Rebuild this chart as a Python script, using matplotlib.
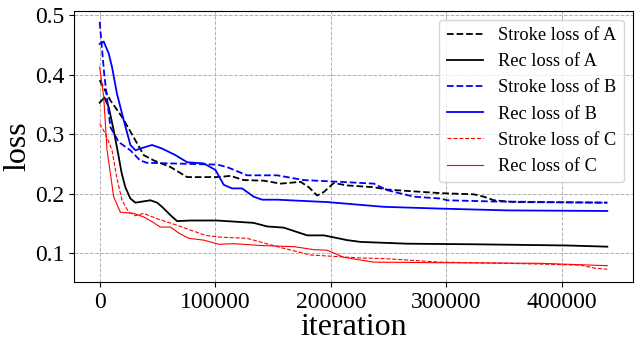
import numpy as np
import matplotlib
matplotlib.use("Agg")
import matplotlib.pyplot as plt

plt.rcParams['font.family'] = ['Liberation Serif', 'DejaVu Serif']

# Stroke loss of A (black dashed)
iter_sa = [0, 9300, 19400, 29400, 38100, 46800, 61200, 75700, 101700, 113200, 124700,
           142000, 156500, 173800, 181000, 188200, 194000, 202600, 214200, 237200,
           248800, 295000, 323800, 332500, 341200, 358500, 439300]
loss_sa = [0.391, 0.357, 0.329, 0.295, 0.265, 0.256, 0.245, 0.228, 0.228, 0.230, 0.223,
           0.222, 0.217, 0.220, 0.211, 0.197, 0.203, 0.218, 0.214, 0.211,
           0.207, 0.201, 0.199, 0.195, 0.189, 0.186, 0.185]

# Rec loss of A (black solid)
iter_ra = [0, 4100, 7800, 12100, 16500, 19000, 22200, 26600, 30900, 43900, 49700, 54000,
           61200, 67000, 78500, 101700, 133300, 144900, 159300, 179600, 194000, 214200,
           225700, 266000, 323800, 404600, 439300]
loss_ra = [0.353, 0.362, 0.346, 0.307, 0.262, 0.235, 0.211, 0.192, 0.185, 0.189, 0.185, 0.178,
           0.164, 0.154, 0.155, 0.155, 0.151, 0.145, 0.143, 0.130, 0.130, 0.122,
           0.119, 0.116, 0.115, 0.113, 0.111]

# Stroke loss of B (blue dashed)
iter_sb = [0, 4000, 9300, 16500, 26600, 35000, 41000, 101700, 110000, 127600, 153600,
           176500, 208400, 237300, 248800, 272000, 295000, 300800, 340900, 439300]
loss_sb = [0.489, 0.400, 0.312, 0.287, 0.273, 0.256, 0.252, 0.249, 0.245, 0.231, 0.231,
           0.223, 0.220, 0.217, 0.206, 0.195, 0.192, 0.189, 0.187, 0.185]

# Rec loss of B (blue solid)
iter_rb = [0, 3500, 7800, 10700, 15000, 20800, 26600, 30900, 35200, 45300, 54000, 65500,
           75700, 90100, 100200, 107400, 114600, 123300, 133300, 140600, 153600, 196900,
           246000, 295000, 352700, 439300]
loss_rb = [0.452, 0.456, 0.436, 0.413, 0.368, 0.324, 0.282, 0.273, 0.276, 0.282, 0.276, 0.265,
           0.253, 0.251, 0.240, 0.215, 0.209, 0.209, 0.195, 0.190, 0.190, 0.186,
           0.178, 0.175, 0.172, 0.171]

# Stroke loss of C (red dashed, thin)
iter_sc = [0, 4900, 10700, 15000, 19400, 25100, 30900, 38100, 49700, 67000, 78500, 91500,
           104500, 127600, 153600, 182400, 225700, 246000, 295000, 352700, 416200,
           427800, 439300]
loss_sc = [0.318, 0.301, 0.273, 0.225, 0.189, 0.169, 0.163, 0.167, 0.158, 0.147, 0.139, 0.130,
           0.127, 0.125, 0.111, 0.097, 0.092, 0.091, 0.085, 0.083, 0.080,
           0.075, 0.073]

# Rec loss of C (red solid, thin)
iter_rc = [0, 3500, 6400, 9300, 12100, 17900, 29400, 38100, 45300, 52500, 61200, 68400,
           77100, 90100, 103100, 116000, 139100, 168000, 185300, 196900, 211300, 237200,
           295000, 381600, 439300]
loss_rc = [0.413, 0.363, 0.273, 0.234, 0.195, 0.169, 0.167, 0.161, 0.153, 0.144, 0.144, 0.134,
           0.125, 0.122, 0.115, 0.116, 0.113, 0.111, 0.106, 0.105, 0.093, 0.085,
           0.084, 0.083, 0.079]

fig = plt.figure(figsize=(6.42, 3.49), dpi=100)
ax = fig.add_axes([0.1157, 0.191, 0.8698, 0.7786])

ax.plot(iter_sa, loss_sa, color='black', linestyle='--', linewidth=1.3, label='Stroke loss of A')
ax.plot(iter_ra, loss_ra, color='black', linestyle='-', linewidth=1.3, label='Rec loss of A')
ax.plot(iter_sb, loss_sb, color='blue', linestyle='--', linewidth=1.3, label='Stroke loss of B')
ax.plot(iter_rb, loss_rb, color='blue', linestyle='-', linewidth=1.3, label='Rec loss of B')
ax.plot(iter_sc, loss_sc, color='red', linestyle='--', linewidth=0.8, label='Stroke loss of C')
ax.plot(iter_rc, loss_rc, color='red', linestyle='-', linewidth=0.8, label='Rec loss of C')

ax.set_ylim(0.051, 0.508)
ax.set_yticks([0.1, 0.2, 0.3, 0.4, 0.5])
ax.set_xticks([0, 100000, 200000, 300000, 400000])
ax.tick_params(labelsize=17)
ax.set_xlabel('iteration', fontsize=23, labelpad=0)
ax.set_ylabel('loss', fontsize=23, labelpad=2)
ax.grid(True, linestyle='--', color='#b0b0b0', linewidth=0.7)
ax.legend(loc='upper right', fontsize=13.2, borderaxespad=0.5)

fig.savefig('out.png', dpi=100)
